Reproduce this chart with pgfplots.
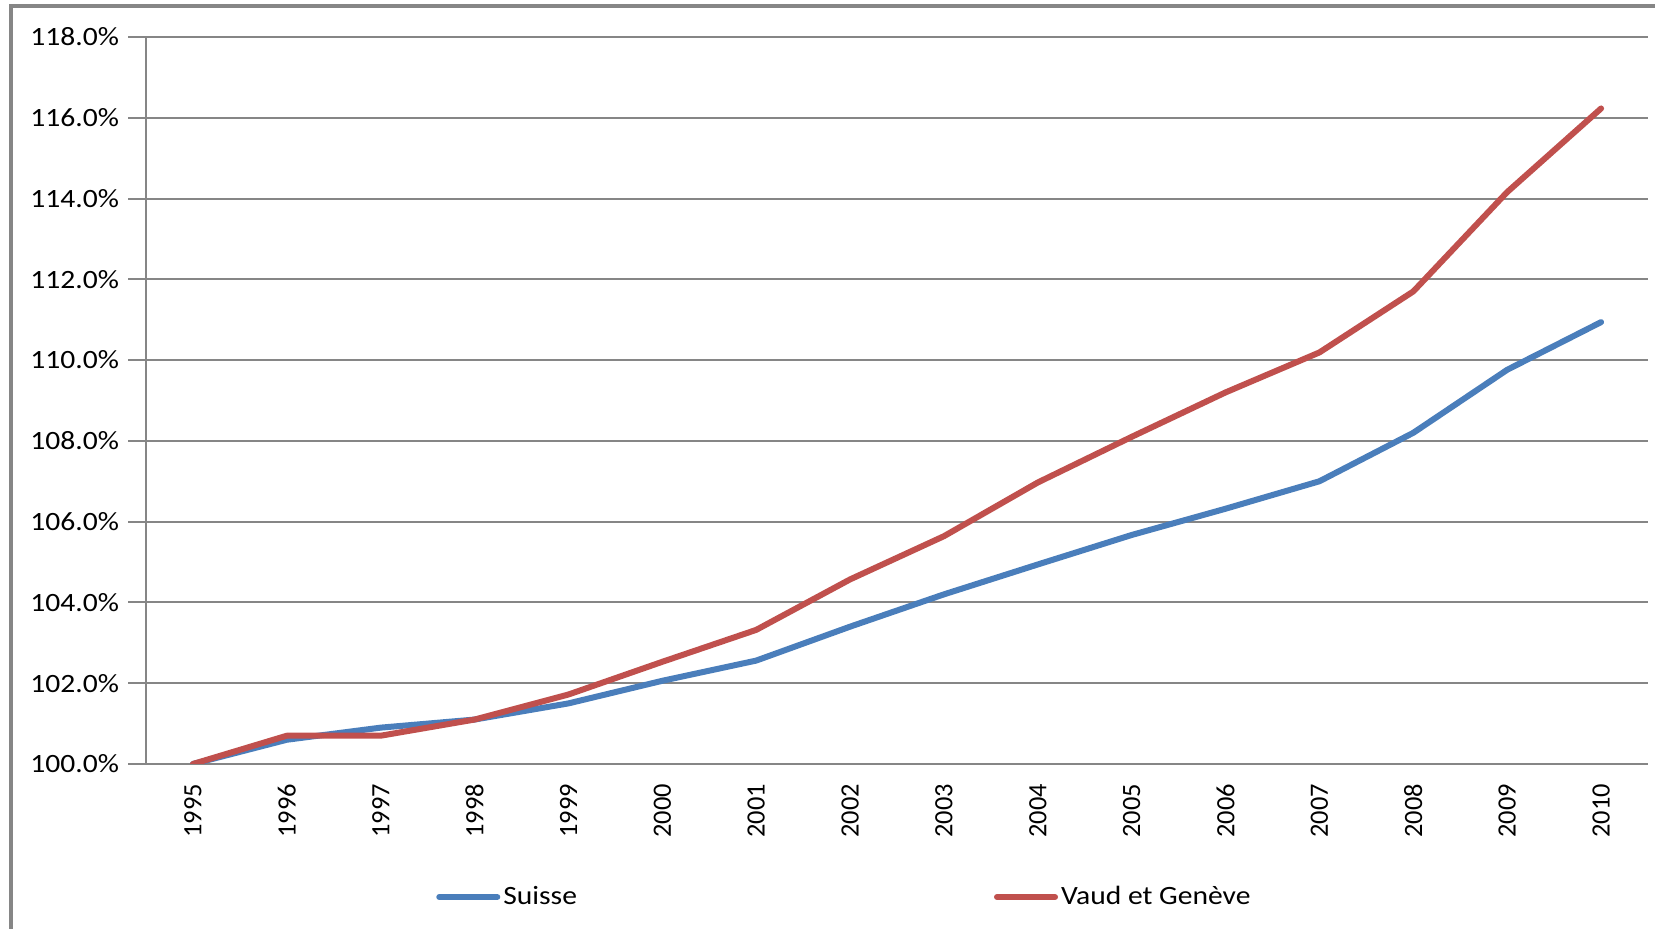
\documentclass[border=0pt]{standalone}
\usepackage{fontspec}
\setmainfont{Carlito}[FakeStretch=1.12]
\newfontfamily\xlabfont{Carlito}
\usepackage{pgfplots}
\pgfplotsset{compat=1.18}
\definecolor{suisse}{RGB}{74,126,187}
\definecolor{vaudge}{RGB}{192,80,77}
\definecolor{gridgray}{RGB}{134,134,134}

\begin{document}
\begin{tikzpicture}
\useasboundingbox (0,0) rectangle (827.5pt,464.5pt);
% outer frame (only top and left edges are visible)
\draw[gridgray, line width=1.6pt] (5.5pt,-5pt) -- (5.5pt,461.5pt) -- (835pt,461.5pt);
\begin{axis}[
    at={(73pt,82.5pt)}, anchor=south west,
    scale only axis,
    width=751pt, height=363.5pt,
    font=\fontsize{13.2pt}{15pt}\selectfont,
    xmin=-0.5, xmax=15.5,
    ymin=100, ymax=118,
    xtick={0,...,15},
    xticklabels={1995,1996,1997,1998,1999,2000,2001,2002,2003,2004,2005,2006,2007,2008,2009,2010},
    minor xtick={-0.5,0.5,...,15.5},
    ytick={100,102,...,118},
    yticklabel={\pgfmathprintnumber[fixed,fixed zerofill,precision=1]{\tick}\%},
    /pgf/number format/assume math mode=true,
    x tick label style={yshift=2.5pt, rotate=90, anchor=east, font=\xlabfont\fontsize{13.2pt}{15pt}\selectfont},
    y tick label style={xshift=-1pt},
    axis x line*=bottom, axis y line*=left,
    axis line style={gridgray, line width=1pt, -},
    tick align=outside,
    major tick length=9pt,
    minor tick length=5pt,
    xtick style={draw=none},
    minor x tick style={gridgray, line width=1pt},
    ytick style={gridgray, line width=1pt},
    ymajorgrids,
    major grid style={gridgray, line width=1pt},
    every axis plot/.append style={line width=3pt, line join=round, line cap=round},
    legend columns=2,
    legend style={at={(0.189,-0.183)}, anchor=west, draw=none, fill=none,
        /tikz/every even column/.append style={column sep=207pt},
        nodes={inner sep=1.5pt}},
    legend image code/.code={\draw[#1, line width=3pt, line cap=round] (0pt,0pt) -- (29pt,0pt);},
]
\addplot[suisse] coordinates {
    (0,100.0) (1,100.6) (2,100.9) (3,101.1) (4,101.5) (5,102.06) (6,102.56) (7,103.4)
    (8,104.2) (9,104.94) (10,105.67) (11,106.32) (12,107.0) (13,108.2) (14,109.76) (15,110.94)
};
\addplot[vaudge] coordinates {
    (0,100.0) (1,100.7) (2,100.7) (3,101.1) (4,101.72) (5,102.53) (6,103.32) (7,104.57)
    (8,105.64) (9,106.97) (10,108.1) (11,109.2) (12,110.19) (13,111.7) (14,114.16) (15,116.23)
};
\legend{Suisse, Vaud et Genève}
\end{axis}
\end{tikzpicture}
\end{document}
